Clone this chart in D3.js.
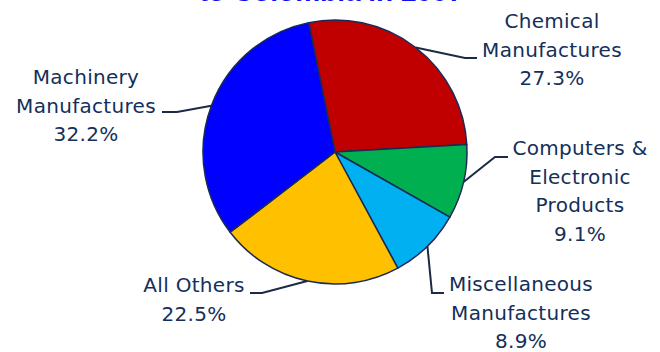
<!DOCTYPE html>
<html>
<head>
<meta charset="utf-8">
<script src="https://cdn.jsdelivr.net/npm/d3@7"></script>
<style>
  body { margin: 0; background: #fff; }
  svg { display: block; }
</style>
</head>
<body>
<div id="pie-chart"></div>
<script>
// slice data, clockwise from the top
var categories = ["Chemical Manufactures", "Computers & Electronic Products", "Miscellaneous Manufactures", "All Others", "Machinery Manufactures"];
var shares = [27.3, 9.1, 8.9, 22.5, 32.2];
var labelLines = [
  ["Chemical", "Manufactures"],
  ["Computers &", "Electronic", "Products"],
  ["Miscellaneous", "Manufactures"],
  ["All Others"],
  ["Machinery", "Manufactures"]
];
var sliceColors = ["#c00000", "#00b050", "#00b0f0", "#ffc000", "#0000ff"];

var width = 660, height = 352;
var cx = 335, cy = 152, radius = 132;
var startAngle = -11.5 * Math.PI / 180;

// label placement: text centre x, first baseline y, leader elbow and end
var labelPos = [
  {x: 552, y: 28, elbow: [465, 58], end: [477, 58]},
  {x: 580, y: 155, elbow: [495, 157], end: [508, 157]},
  {x: 521, y: 291, elbow: [432, 293], end: [444, 293]},
  {x: 194, y: 292, elbow: [262, 293], end: [250, 293]},
  {x: 86, y: 84, elbow: [177, 112], end: [162, 112]}
];
var lineGap = 28.5;
var textColor = "#142f5a";

var svg = d3.select("#pie-chart").append("svg")
  .attr("width", width)
  .attr("height", height);

// title, mostly cut off by the top edge
svg.append("text")
  .attr("x", 331)
  .attr("y", 1)
  .attr("text-anchor", "middle")
  .style("font-family", "Liberation Sans, Arial, sans-serif")
  .style("font-weight", "bold")
  .style("font-size", "28px")
  .style("fill", "#1010e8")
  .text("to Colombia in 2007");

var data = categories.map(function(c, i) {
  return {name: c, value: shares[i], lines: labelLines[i], color: sliceColors[i], pos: labelPos[i]};
});

var pie = d3.pie()
  .sort(null)
  .value(function(d) { return d.value; })
  .startAngle(startAngle)
  .endAngle(startAngle + 2 * Math.PI);

var arc = d3.arc().innerRadius(0).outerRadius(radius);
var edgeArc = d3.arc().innerRadius(radius).outerRadius(radius);

var g = svg.append("g").attr("transform", "translate(" + cx + "," + cy + ")");

var arcs = pie(data);

g.selectAll(".slice")
  .data(arcs)
  .enter()
  .append("path")
  .attr("class", "slice")
  .attr("d", arc)
  .style("fill", function(d) { return d.data.color; })
  .style("stroke", "#1b2a55")
  .style("stroke-width", 1.5)
  .style("stroke-linejoin", "round");

// leader lines from the slice edge to the labels
svg.selectAll(".leader")
  .data(arcs)
  .enter()
  .append("polyline")
  .attr("class", "leader")
  .attr("points", function(d) {
    var c = edgeArc.centroid(d);
    var p = d.data.pos;
    return [[cx + c[0], cy + c[1]], p.elbow, p.end].map(function(q) { return q.join(","); }).join(" ");
  })
  .style("fill", "none")
  .style("stroke", "#1b2a45")
  .style("stroke-width", 2);

var labels = svg.selectAll(".label")
  .data(arcs)
  .enter()
  .append("text")
  .attr("class", "label")
  .attr("text-anchor", "middle")
  .style("font-family", "DejaVu Sans, Verdana, sans-serif")
  .style("font-size", "20px")
  .style("letter-spacing", "0.3px")
  .style("fill", textColor);

labels.each(function(d) {
  var t = d3.select(this);
  var lines = d.data.lines.concat([d.data.value.toFixed(1) + "%"]);
  lines.forEach(function(s, i) {
    t.append("tspan")
      .attr("x", d.data.pos.x)
      .attr("y", d.data.pos.y + i * lineGap)
      .text(s);
  });
});
</script>
</body>
</html>
